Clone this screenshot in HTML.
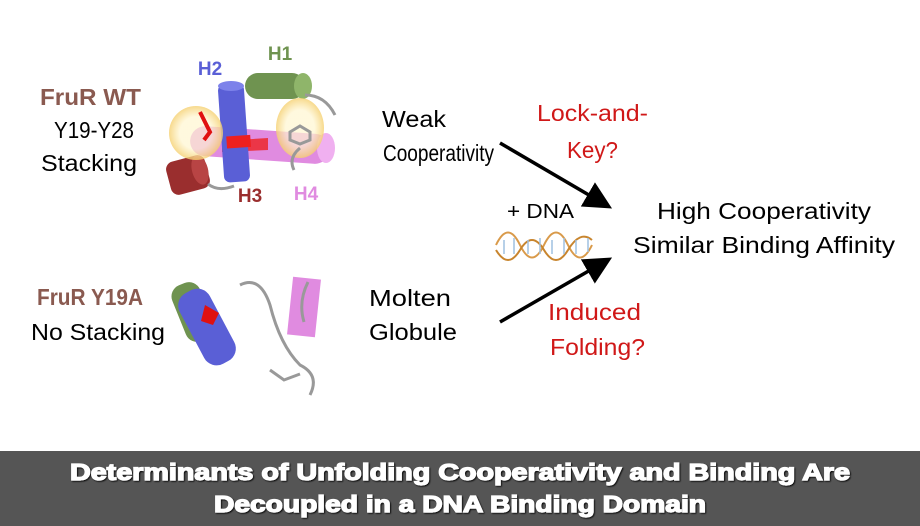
<!DOCTYPE html>
<html><head><meta charset="utf-8"><style>
html,body{margin:0;padding:0;background:#fff;width:920px;height:526px;overflow:hidden}
svg{display:block}
text{font-family:"Liberation Sans",sans-serif}
</style></head><body>
<svg width="920" height="526" viewBox="0 0 920 526" xmlns="http://www.w3.org/2000/svg">
<defs>
<marker id="ah" markerWidth="8" markerHeight="8" refX="6" refY="4" orient="auto" markerUnits="strokeWidth">
<path d="M0,0 L8,4 L0,8 z" fill="#000"/></marker>
<radialGradient id="glow"><stop offset="0.6" stop-color="#fff6d0" stop-opacity="0.7"/><stop offset="1" stop-color="#f5d070" stop-opacity="0.8"/></radialGradient>
<filter id="sh" x="-5%" y="-20%" width="110%" height="140%"><feDropShadow dx="1" dy="1" stdDeviation="0.8" flood-color="#000" flood-opacity="0.9"/></filter>
</defs>
<rect width="920" height="526" fill="#fff"/>

<!-- WT structure -->
<g>
<rect x="245" y="73" width="60" height="26" rx="13" fill="#6f9350"/>
<ellipse cx="303" cy="86" rx="9" ry="13" fill="#8fb56a"/>
<rect x="190" y="130" width="140" height="30" rx="15" fill="#e08be0" transform="rotate(4 260 145)"/>
<ellipse cx="326" cy="148" rx="9" ry="15" fill="#f0b0f0"/>
<rect x="168" y="158" width="40" height="34" rx="8" fill="#9a2e2e" transform="rotate(-15 188 175)"/>
<ellipse cx="200" cy="170" rx="8" ry="15" fill="#b84444" transform="rotate(-15 200 170)"/>
<path d="M222,141 L268,138 L268,150 L222,152 z" fill="#ee2020" opacity="0.8"/>
<rect x="221" y="84" width="26" height="98" rx="6" fill="#5a5fd6" transform="rotate(-4 234 133)"/>
<ellipse cx="231" cy="86" rx="13" ry="5" fill="#7d82ea"/>
<rect x="226" y="136" width="24" height="12" fill="#ee2020" transform="rotate(-4 234 133)"/>
<circle cx="196" cy="133" r="27" fill="url(#glow)"/>
<ellipse cx="300" cy="128" rx="24" ry="30" fill="url(#glow)"/>
<path d="M200,112 L210,132 L204,140" stroke="#e01010" stroke-width="4" fill="none"/>
<path d="M290,132 l10,-6 l10,6 l0,8 l-10,4 l-10,-4 z M300,148 q-12,10 -6,22 M208,184 q10,8 26,2" stroke="#999" stroke-width="3" fill="none"/>
<path d="M305,95 q20,0 30,20" stroke="#999" stroke-width="3" fill="none"/>
</g>
<text x="210" y="75" font-size="19" font-weight="bold" fill="#5a5fd6" text-anchor="middle">H2</text>
<text x="280" y="60" font-size="19" font-weight="bold" fill="#6f9350" text-anchor="middle">H1</text>
<text x="250" y="202" font-size="19" font-weight="bold" fill="#9a2e2e" text-anchor="middle">H3</text>
<text x="306" y="200" font-size="19" font-weight="bold" fill="#e08be0" text-anchor="middle">H4</text>

<!-- Y19A structure -->
<g>
<rect x="178" y="282" width="30" height="60" rx="12" fill="#6f9350" transform="rotate(-22 193 312)"/>
<rect x="190" y="287" width="34" height="80" rx="14" fill="#5a5fd6" transform="rotate(-28 207 327)"/>
<path d="M205,305 l14,8 l-6,12 l-12,-4 z" fill="#e01010"/>
<rect x="290" y="278" width="28" height="58" fill="#e08be0" transform="rotate(6 304 307)"/>
<path d="M240,285 q20,-10 30,20 q10,40 30,60 q20,10 10,30 M270,370 l14,10 l16,-6 M308,282 q-10,20 -4,40" stroke="#999" stroke-width="3" fill="none"/>
</g>

<!-- Labels -->
<g font-size="23" fill="#000" lengthAdjust="spacingAndGlyphs">
<text x="40" y="105" font-weight="bold" fill="#8a5a50" textLength="101" lengthAdjust="spacingAndGlyphs">FruR WT</text>
<text x="54" y="138" textLength="80" lengthAdjust="spacingAndGlyphs">Y19-Y28</text>
<text x="41" y="171" textLength="96" lengthAdjust="spacingAndGlyphs">Stacking</text>
<text x="37" y="305" font-weight="bold" fill="#8a5a50" textLength="106" lengthAdjust="spacingAndGlyphs">FruR Y19A</text>
<text x="31" y="340" textLength="134" lengthAdjust="spacingAndGlyphs">No Stacking</text>
<text x="382" y="127" textLength="64" lengthAdjust="spacingAndGlyphs">Weak</text>
<text x="383" y="161" textLength="111" lengthAdjust="spacingAndGlyphs">Cooperativity</text>
<text x="369" y="306" textLength="82" lengthAdjust="spacingAndGlyphs">Molten</text>
<text x="369" y="340" textLength="88" lengthAdjust="spacingAndGlyphs">Globule</text>
<text x="537" y="121" fill="#d01818" textLength="111" lengthAdjust="spacingAndGlyphs">Lock-and-</text>
<text x="567" y="158" fill="#d01818" textLength="51" lengthAdjust="spacingAndGlyphs">Key?</text>
<text x="548" y="320" fill="#d01818" textLength="93" lengthAdjust="spacingAndGlyphs">Induced</text>
<text x="550" y="355" fill="#d01818" textLength="95" lengthAdjust="spacingAndGlyphs">Folding?</text>
<text x="507" y="218" font-size="20" textLength="67" lengthAdjust="spacingAndGlyphs">+ DNA</text>
<text x="657" y="219" textLength="214" lengthAdjust="spacingAndGlyphs">High Cooperativity</text>
<text x="633" y="253" textLength="262" lengthAdjust="spacingAndGlyphs">Similar Binding Affinity</text>
</g>

<!-- DNA -->
<g fill="none" stroke-width="2">
<path d="M496,245 q12,-25 24,0 t24,0 t24,0 t24,0" stroke="#d99a4a"/>
<path d="M496,250 q12,20 24,0 t24,0 t24,0 t24,-10" stroke="#c8852e"/>
<path d="M504,240 v14 M514,238 v16 M528,240 v14 M540,238 v16 M552,240 v14 M564,238 v16 M576,240 v14 M588,238 v14" stroke="#9fc0e0" stroke-width="1.5"/>
</g>

<!-- Arrows -->
<line x1="500" y1="143" x2="606" y2="205" stroke="#000" stroke-width="3.5" marker-end="url(#ah)"/>
<line x1="500" y1="322" x2="606" y2="261" stroke="#000" stroke-width="3.5" marker-end="url(#ah)"/>

<!-- Banner -->
<rect x="0" y="451" width="920" height="75" fill="#555555"/>
<g font-size="23" font-weight="bold" fill="#fff" stroke="#fff" stroke-width="1.3" filter="url(#sh)">
<text x="70" y="480" textLength="780" lengthAdjust="spacingAndGlyphs">Determinants of Unfolding Cooperativity and Binding Are</text>
<text x="214" y="512" textLength="492" lengthAdjust="spacingAndGlyphs">Decoupled in a DNA Binding Domain</text>
</g>
</svg>
</body></html>
